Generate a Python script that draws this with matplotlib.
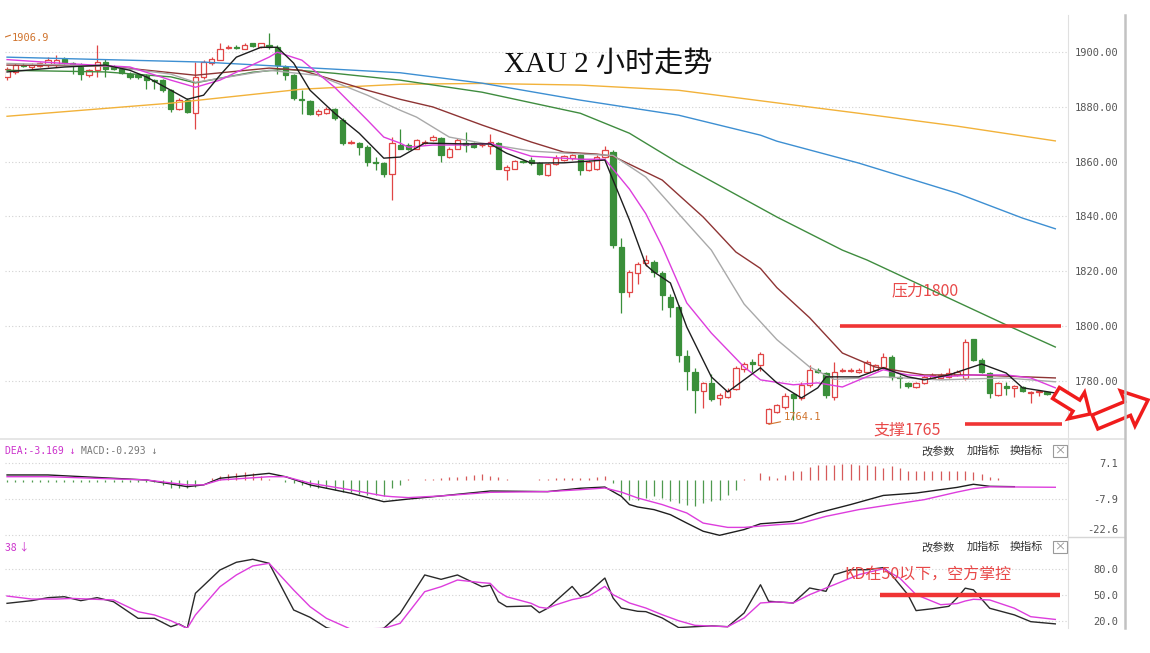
import numpy as np
import matplotlib.pyplot as plt
from matplotlib.patches import FancyArrow

plt.rcParams['font.family'] = ['Noto Sans CJK SC', 'DejaVu Sans']

# ---- 2h candles (open / high / low / close) ----
opens = [1891.0, 1892.8, 1895.5, 1894.6, 1895.0, 1895.3, 1895.3, 1897.7, 1895.9, 1894.6,
         1891.6, 1893.4, 1896.5, 1894.6, 1894.0, 1892.2, 1891.6, 1891.2, 1890.0, 1889.8,
         1886.1, 1879.1, 1882.5, 1877.9, 1891.0, 1895.9, 1897.3, 1901.5, 1901.9, 1901.3,
         1903.2, 1901.9, 1902.5, 1901.9, 1894.6, 1891.6, 1882.8, 1882.2, 1877.6, 1877.9,
         1879.4, 1875.4, 1867.0, 1866.9, 1865.5, 1860.0, 1859.6, 1855.5, 1866.1, 1866.1,
         1864.8, 1866.9, 1867.9, 1868.5, 1861.8, 1864.8, 1867.0, 1866.9, 1866.0, 1865.7,
         1866.9, 1856.9, 1857.5, 1860.2, 1860.8, 1859.4, 1855.1, 1859.1, 1860.6, 1861.2,
         1862.4, 1856.9, 1857.5, 1861.8, 1863.6, 1829.0, 1812.5, 1819.3, 1823.0, 1823.4,
         1819.3, 1810.6, 1807.0, 1789.0, 1783.2, 1776.3, 1779.2, 1773.5, 1774.2, 1777.0,
         1784.3, 1786.8, 1785.8, 1764.6, 1768.6, 1770.4, 1775.0, 1773.6, 1778.5, 1784.0,
         1782.7, 1774.2, 1783.5, 1783.6, 1783.2, 1783.3, 1784.0, 1785.1, 1788.8, 1781.5,
         1779.1, 1777.8, 1779.1, 1781.0, 1781.0, 1781.3, 1782.0, 1781.0, 1795.1, 1787.6,
         1782.7, 1774.8, 1778.0, 1777.3, 1777.6, 1775.6, 1776.0, 1775.7]
highs = [1894.6, 1895.9, 1896.0, 1895.9, 1896.5, 1898.3, 1898.9, 1898.3, 1896.5, 1895.9,
         1894.0, 1902.5, 1897.7, 1895.3, 1894.6, 1892.8, 1892.2, 1892.0, 1890.4, 1890.4,
         1886.7, 1883.1, 1883.1, 1896.5, 1897.1, 1898.3, 1903.2, 1902.5, 1902.5, 1903.2,
         1903.5, 1903.5, 1906.9, 1902.5, 1895.3, 1892.2, 1886.1, 1882.5, 1879.1, 1880.0,
         1879.8, 1875.8, 1867.9, 1867.3, 1866.1, 1861.8, 1860.0, 1869.1, 1872.1, 1866.7,
         1868.3, 1867.9, 1869.7, 1869.1, 1865.3, 1868.5, 1870.9, 1867.3, 1866.7, 1870.3,
         1867.3, 1858.8, 1860.8, 1860.8, 1861.8, 1859.8, 1859.6, 1862.4, 1862.6, 1863.0,
         1863.0, 1860.6, 1862.4, 1865.7, 1864.2, 1832.0, 1820.3, 1823.5, 1825.8, 1824.0,
         1819.9, 1811.8, 1807.5, 1791.2, 1784.7, 1779.6, 1782.6, 1775.5, 1777.2, 1785.5,
         1787.0, 1788.0, 1790.3, 1770.0, 1771.5, 1775.5, 1775.5, 1779.7, 1785.6, 1784.5,
         1783.3, 1787.0, 1784.5, 1784.7, 1784.8, 1787.5, 1786.2, 1790.0, 1789.4, 1782.2,
         1779.5, 1779.5, 1782.0, 1782.7, 1782.8, 1784.6, 1784.0, 1795.1, 1795.4, 1788.2,
         1783.3, 1779.6, 1779.5, 1778.6, 1778.0, 1776.3, 1776.7, 1776.0]
lows = [1889.8, 1892.2, 1894.6, 1894.0, 1894.6, 1894.6, 1894.6, 1895.3, 1892.2, 1889.8,
        1890.8, 1890.8, 1891.0, 1893.4, 1892.0, 1890.4, 1890.4, 1886.4, 1886.4, 1885.5,
        1878.2, 1878.8, 1877.9, 1871.8, 1890.4, 1895.3, 1897.1, 1901.0, 1901.0, 1901.0,
        1901.9, 1901.6, 1901.3, 1892.2, 1889.8, 1882.7, 1877.6, 1877.0, 1876.6, 1877.6,
        1875.4, 1866.1, 1866.4, 1862.4, 1858.4, 1856.9, 1854.5, 1846.0, 1864.5, 1864.2,
        1864.5, 1866.5, 1867.5, 1860.0, 1861.5, 1864.5, 1863.6, 1865.0, 1865.5, 1863.0,
        1857.2, 1853.3, 1857.2, 1859.6, 1858.8, 1855.0, 1854.8, 1858.8, 1860.2, 1860.8,
        1855.0, 1856.5, 1857.0, 1861.2, 1828.5, 1804.6, 1810.5, 1815.3, 1822.0, 1817.9,
        1805.9, 1803.3, 1787.0, 1776.6, 1768.2, 1770.0, 1772.5, 1771.2, 1773.5, 1776.6,
        1783.2, 1783.0, 1783.5, 1764.1, 1768.2, 1769.7, 1765.7, 1772.9, 1777.8, 1782.8,
        1773.6, 1773.0, 1783.2, 1783.0, 1782.9, 1782.8, 1783.5, 1784.5, 1780.3, 1777.3,
        1777.5, 1777.3, 1778.7, 1780.6, 1780.6, 1781.0, 1781.6, 1780.3, 1787.2, 1782.8,
        1773.6, 1774.4, 1774.8, 1774.2, 1775.8, 1772.0, 1774.5, 1774.9]
closes = [1894.0, 1895.3, 1895.0, 1895.3, 1895.9, 1897.1, 1897.1, 1895.9, 1895.3, 1892.2,
          1893.4, 1896.5, 1894.0, 1894.0, 1892.5, 1890.8, 1891.0, 1889.8, 1889.4, 1886.1,
          1879.4, 1882.5, 1878.2, 1891.0, 1896.5, 1897.7, 1901.3, 1901.9, 1901.7, 1902.8,
          1902.2, 1903.2, 1901.9, 1895.3, 1891.6, 1883.1, 1882.5, 1877.6, 1878.5, 1879.4,
          1875.8, 1866.9, 1867.3, 1865.5, 1860.0, 1859.6, 1855.5, 1866.7, 1864.8, 1864.8,
          1867.9, 1867.3, 1869.1, 1862.4, 1864.8, 1867.9, 1866.1, 1865.5, 1866.2, 1867.3,
          1857.5, 1858.2, 1860.2, 1860.0, 1859.4, 1855.5, 1859.1, 1861.2, 1862.0, 1862.4,
          1856.9, 1860.0, 1861.8, 1864.2, 1829.6, 1812.5, 1819.7, 1822.6, 1824.2, 1819.7,
          1811.3, 1807.0, 1789.4, 1783.6, 1776.6, 1779.2, 1773.4, 1774.7, 1776.3, 1784.7,
          1786.2, 1786.2, 1789.8, 1769.5, 1771.0, 1774.4, 1773.8, 1778.5, 1783.9, 1783.2,
          1774.8, 1783.3, 1784.0, 1784.0, 1784.0, 1787.0, 1785.6, 1788.8, 1781.5, 1780.8,
          1777.9, 1779.0, 1781.5, 1782.2, 1782.2, 1782.7, 1783.3, 1794.3, 1787.6, 1783.3,
          1775.4, 1779.1, 1777.3, 1778.0, 1776.4, 1775.9, 1776.3, 1775.3]

# ---- moving averages, read at candle positions ----
ma5_x = [0, 7, 12, 15, 17, 20, 22, 24, 26, 28, 31, 33, 35, 37, 40, 43, 46, 48, 51, 56, 59, 61,
         64, 68, 73, 75, 76, 78, 79, 81, 83, 86, 88, 90, 92, 94, 97, 99, 100, 104, 107, 110,
         112, 115, 119, 122, 124, 128]
ma5 = [1892.8, 1894.6, 1895.3, 1893.4, 1891.0, 1886.1, 1882.8, 1884.3, 1891.6, 1898.2, 1901.8,
       1901.8, 1896.0, 1886.1, 1877.7, 1870.4, 1861.3, 1861.7, 1866.8, 1866.5, 1866.5, 1863.1,
       1859.5, 1859.6, 1860.6, 1846.0, 1838.7, 1822.3, 1819.7, 1815.7, 1799.6, 1781.4, 1775.9,
       1780.3, 1784.7, 1779.2, 1773.7, 1777.4, 1781.4, 1781.4, 1784.7, 1781.4, 1780.3, 1782.1,
       1786.1, 1782.8, 1777.4, 1775.5]
ma10_x = [0, 7, 15, 20, 23, 26, 28, 32, 33, 36, 40, 44, 46, 48, 49, 52, 56, 59, 64, 70, 73, 76,
          78, 80, 83, 86, 90, 92, 96, 99, 102, 107, 110, 114, 118, 122, 125, 128]
ma10 = [1897.3, 1895.9, 1894.6, 1889.8, 1887.2, 1889.8, 1892.7, 1898.2, 1900.0, 1897.1, 1887.2,
        1875.2, 1869.0, 1866.8, 1865.3, 1866.1, 1866.1, 1866.7, 1862.0, 1860.9, 1860.9, 1850.0,
        1841.0, 1829.0, 1808.4, 1797.4, 1785.0, 1780.3, 1778.5, 1779.2, 1777.7, 1784.0, 1782.1,
        1781.4, 1782.1, 1782.1, 1781.0, 1777.4]
ma20_x = [0, 12, 20, 23, 32, 38, 44, 48, 50, 54, 58, 64, 70, 74, 78, 82, 86, 90, 94, 98, 101,
          107, 114, 122, 128]
ma20 = [1895.9, 1895.0, 1892.0, 1889.0, 1893.4, 1891.5, 1884.3, 1878.8, 1876.3, 1869.0, 1866.8,
        1863.9, 1862.8, 1862.3, 1854.4, 1841.0, 1827.7, 1808.0, 1795.0, 1785.0, 1780.5, 1781.4,
        1780.3, 1781.0, 1779.6]
ma30_x = [0, 12, 23, 32, 36, 44, 48, 52, 58, 64, 68, 72, 74, 80, 85, 89, 92, 94, 98, 102, 106,
          112, 118, 128]
ma30 = [1895.3, 1895.0, 1891.6, 1894.2, 1893.4, 1886.1, 1882.8, 1880.0, 1873.4, 1867.2, 1863.5,
        1862.8, 1862.0, 1853.3, 1839.8, 1827.0, 1821.0, 1814.0, 1803.0, 1790.1, 1785.0, 1782.1,
        1782.1, 1781.0]
ma60_x = [0, 12, 20, 23, 26, 30, 34, 40, 48, 58, 70, 76, 82, 94, 102, 105, 122, 128]
ma60 = [1893.4, 1892.8, 1891.0, 1888.8, 1890.5, 1892.7, 1893.8, 1892.3, 1889.8, 1885.4, 1877.7,
        1870.4, 1859.5, 1839.8, 1827.7, 1824.1, 1800.4, 1792.3]
ma120_x = [0, 24, 48, 58, 70, 82, 92, 94, 104, 116, 124, 128]
ma120 = [1898.2, 1896.4, 1892.5, 1888.7, 1882.5, 1877.0, 1869.7, 1867.5, 1859.5, 1848.5, 1839.4,
         1835.5]
ma250_x = [0, 20, 36, 48, 58, 70, 82, 94, 104, 116, 128]
ma250 = [1876.6, 1881.4, 1886.5, 1888.3, 1888.6, 1888.0, 1886.1, 1881.5, 1877.7, 1873.0, 1867.6]

# ---- MACD ----
macd_hist = [-0.6, -0.5, -0.6, -0.5, -0.6, -0.5, -0.6, -0.5, -0.6, -0.5, -0.6, -0.5, -0.6, -0.5,
             -0.6, -0.5, -0.6, -0.5, -0.6, -2.0, -3.0, -3.4, -3.4, -2.8, 0.3, 1.0, 2.0, 2.5, 3.0,
             3.3, 3.0, 1.8, 0.5, 0.3, -0.5, -1.2, -1.9, -2.6, -3.3, -3.3, -4.0, -4.7, -5.0, -5.8,
             -6.1, -6.1, -6.4, -3.3, -1.9, 0.5, 0.3, 0.5, 0.5, 0.8, 1.2, 1.5, 1.8, 2.2, 2.5, 1.8,
             1.2, 0.5, 0.3, 0.3, 0.3, 0.5, 0.5, 0.8, 1.0, 1.0, 0.8, 1.0, 1.2, 1.7, -1.1, -6.3,
             -8.05, -8.05, -7.35, -6.65, -7.35, -8.75, -9.45, -10.1, -10.8, -9.45, -8.75, -8.05,
             -6.0, -3.9, 0.5, 0.2, 3.05, 1.7, 1.0, 2.1, 3.75, 4.0, 5.4, 6.5, 6.5, 6.5, 6.8, 6.8,
             6.5, 6.5, 5.85, 5.15, 5.85, 5.15, 3.75, 3.75, 3.75, 3.75, 3.75, 3.75, 3.75, 4.0, 3.5,
             2.8, 1.5, 0.8, 0.3, 0.3, 0.0, 0.0, 0.2, 0.2]
dif_x = [0, 5, 17, 22, 24, 26, 32, 34, 37, 42, 46, 49, 53, 59, 66, 70, 73, 75, 76, 77, 79, 81,
         83, 85, 87, 90, 92, 96, 99, 103, 107, 111, 116, 118, 120, 123]
dif = [2.23, 2.23, 0.15, -2.65, -1.9, 0.85, 2.9, 1.5, -1.9, -5.4, -8.9, -7.8, -6.5, -4.45, -4.7,
       -3.3, -2.8, -6.65, -10.1, -11.1, -12.2, -14.3, -17.8, -21.2, -22.9, -20.5, -18.1, -17.1,
       -13.6, -10.1, -6.3, -5.3, -2.95, -1.65, -2.5, -2.65]
dea_x = [0, 5, 17, 22, 24, 26, 32, 34, 37, 42, 46, 47, 49, 53, 59, 66, 70, 73, 75, 77, 80, 83,
         85, 88, 90, 94, 97, 100, 104, 108, 112, 116, 118, 120, 128]
dea = [1.5, 1.5, 0.15, -1.9, -1.9, 0.15, 1.5, 1.5, -1.2, -4.0, -6.5, -6.8, -7.2, -6.5, -5.0, -4.7,
       -3.9, -3.2, -4.9, -7.35, -10.1, -13.6, -17.8, -19.6, -19.6, -18.5, -17.8, -15.0, -12.2,
       -10.1, -8.05, -4.9, -3.5, -2.7, -2.9]

# ---- KD ----
k_x = [0, 3, 5, 7, 9, 11, 13, 16, 18, 20, 21, 22, 23, 26, 28, 30, 32, 35, 37, 39, 42, 46, 48, 51,
       53, 55, 58, 59, 60, 61, 64, 65, 66, 67, 69, 70, 71, 73, 74, 75, 77, 78, 80, 82, 84, 86, 88,
       90, 92, 93, 96, 98, 100, 101, 103, 105, 107, 108, 110, 111, 113, 115, 116, 117, 118, 120,
       123, 125, 128]
k_val = [40.3, 43.4, 46.9, 48.0, 43.4, 46.9, 42.2, 22.8, 22.8, 13.0, 16.2, 11.1, 52.0, 79.2, 88.2,
         91.7, 87.0, 32.5, 24.0, 11.9, 5.0, 11.1, 28.7, 73.4, 68.3, 73.4, 59.7, 61.6, 42.2, 36.4,
         37.2, 29.4, 34.5, 43.0, 60.0, 48.5, 53.0, 69.8, 46.5, 34.8, 31.0, 30.6, 23.2, 12.0, 13.0,
         14.0, 13.0, 29.0, 62.0, 42.7, 40.7, 58.2, 54.3, 73.7, 79.5, 79.5, 82.0, 73.7, 50.4, 31.8,
         34.0, 36.8, 46.5, 58.0, 56.0, 34.5, 26.8, 18.9, 16.3]
d_x = [0, 3, 6, 8, 13, 16, 18, 20, 22, 23, 26, 28, 30, 32, 35, 37, 39, 42, 46, 48, 51, 53, 55, 58,
       59, 60, 61, 64, 65, 66, 67, 69, 71, 73, 74, 76, 78, 80, 82, 84, 88, 90, 92, 94, 96, 98, 101,
       104, 107, 109, 111, 114, 116, 117, 118, 120, 123, 125, 128]
d_val = [48.8, 45.3, 45.3, 46.0, 44.2, 30.5, 26.7, 20.0, 11.1, 26.7, 59.7, 73.4, 83.9, 87.0, 55.8,
         36.4, 22.8, 10.0, 11.0, 17.0, 53.9, 59.7, 67.5, 64.4, 63.6, 53.9, 48.0, 40.3, 35.7, 34.5,
         38.5, 44.6, 48.5, 60.1, 50.4, 40.7, 34.8, 27.0, 20.0, 14.6, 13.0, 23.2, 40.7, 42.0, 40.7,
         50.4, 62.0, 73.7, 80.7, 69.8, 50.4, 38.7, 40.0, 43.0, 45.0, 44.2, 34.6, 24.7, 21.5]

price_ticks = [1780, 1800, 1820, 1840, 1860, 1880, 1900]
macd_ticks = [7.1, -7.9, -22.6]
kd_ticks = [80, 50, 20]
resistance = 1800
support = 1764
kd_level = 50

RED = '#e04646'
GREEN = '#3a8f3a'
LINE_RED = '#f03434'
TXT_RED = '#e84848'
ORANGE_TXT = '#d0742e'
MAGENTA = '#dd3ddd'
GRID = '#d2d2d2'
MONO = ['DejaVu Sans Mono', 'DejaVu Sans']

W, H = 1150, 653
fig = plt.figure(figsize=(W / 100, H / 100), dpi=100)


def rect(top, bottom):
    return [5 / W, 1 - bottom / H, (1068 - 5) / W, (bottom - top) / H]


ax = fig.add_axes(rect(15, 438))
ax_macd = fig.add_axes(rect(439, 537), sharex=ax)
ax_kd = fig.add_axes(rect(537, 628), sharex=ax)

idx = np.arange(len(opens))
o, h, l, c = (np.array(v) for v in (opens, highs, lows, closes))
up = c >= o
body = np.maximum(np.abs(c - o), 0.2)

# candles
ax.vlines(idx[up], l[up], h[up], color=RED, lw=0.9, zorder=2)
ax.vlines(idx[~up], l[~up], h[~up], color=GREEN, lw=0.9, zorder=2)
ax.bar(idx[up], body[up], bottom=o[up], width=0.64, color='white', edgecolor=RED, lw=0.9, zorder=3)
ax.bar(idx[~up], body[~up], bottom=c[~up], width=0.64, color=GREEN, edgecolor=GREEN, lw=0.9, zorder=3)

# moving averages
for xs, ys, col in [(ma250_x, ma250, '#f2b23a'), (ma120_x, ma120, '#3d8fd2'),
                    (ma60_x, ma60, '#3f8c3f'), (ma30_x, ma30, '#8e3434'),
                    (ma20_x, ma20, '#a9a9a9'), (ma10_x, ma10, MAGENTA), (ma5_x, ma5, '#1e1e1e')]:
    ax.plot(xs, ys, color=col, lw=1.0, zorder=4)

ax.set_xlim(-0.25, 129.55)
ax.set_ylim(1759.06, 1913.6)

# annotations on price panel
ax.text(73.4, 1895.5, 'XAU 2 小时走势', fontsize=21, color='#111111', ha='center', va='center',
        family=['Liberation Serif', 'Noto Sans CJK SC'])
ax.text(0.6, 1906.9, '1906.9', fontsize=7.5, color=ORANGE_TXT, va='top', family=MONO)
ax.plot([-0.2, 0.4], [1905.6, 1906.2], color=ORANGE_TXT, lw=0.8)
ax.annotate('1764.1', xy=(93, 1764.1), xytext=(94.8, 1766.6), fontsize=7.5, color=ORANGE_TXT,
            va='center', family=MONO,
            arrowprops=dict(arrowstyle='-', color=ORANGE_TXT, lw=0.8, shrinkA=0, shrinkB=0))
ax.hlines(resistance, 101.7, 128.7, color=LINE_RED, lw=2.6, zorder=5)
ax.text(112.1, 1812.8, '压力1800', fontsize=11.5, color=TXT_RED, ha='center', va='center')
ax.hlines(support, 117, 128.8, color=LINE_RED, lw=2.6, zorder=5)
ax.text(109.9, 1762.0, '支撑1765', fontsize=11.5, color=TXT_RED, ha='center', va='center')

# MACD panel
hist = np.array(macd_hist)
hx = np.arange(len(hist))
ax_macd.vlines(hx[hist >= 0], 0, hist[hist >= 0], color='#d65a5a', lw=0.9)
ax_macd.vlines(hx[hist < 0], 0, hist[hist < 0], color='#4f9a4f', lw=0.9)
ax_macd.plot(dif_x, dif, color='#1e1e1e', lw=1.0)
ax_macd.plot(dea_x, dea, color=MAGENTA, lw=1.0)
ax_macd.set_ylim(-23.6, 17.2)

# KD panel
ax_kd.plot(k_x, k_val, color='#2a2a2a', lw=1.0)
ax_kd.plot(d_x, d_val, color=MAGENTA, lw=1.0)
ax_kd.set_ylim(11.5, 117.7)
ax_kd.hlines(kd_level, 106.6, 128.6, color=LINE_RED, lw=3.2, zorder=5)
ax_kd.text(102.3, 73.3, 'KD在50以下，空方掌控', fontsize=11.5, color=TXT_RED, ha='left', va='center',
           zorder=6)

# axes styling
for a, ticks, fmt in [(ax, price_ticks, '{:.2f}'), (ax_macd, macd_ticks, '{:.1f}'),
                      (ax_kd, kd_ticks, '{:.1f}')]:
    a.set_facecolor('none')
    a.grid(axis='y', ls=(0, (1, 2)), color=GRID, lw=0.8)
    a.yaxis.tick_right()
    a.set_yticks(ticks)
    a.set_yticklabels([fmt.format(t) for t in ticks], ha='right', family=MONO)
    a.tick_params(axis='y', length=0, pad=36, labelsize=7.5, labelcolor='#555555')
    a.tick_params(axis='x', bottom=False, labelbottom=False)
    for s in ['top', 'left', 'bottom']:
        a.spines[s].set_visible(False)
    a.spines['right'].set_color('#e0e0e0')
    a.set_axisbelow(True)
ax_macd.get_yticklabels()[2].set_va('bottom')

# panel headers
ax_macd.text(0.0, 0.878, 'DEA:-3.169 ↓', transform=ax_macd.transAxes, fontsize=7, color='#cc33cc',
             va='center', family=MONO)
ax_macd.text(0.0715, 0.878, 'MACD:-0.293 ↓', transform=ax_macd.transAxes, fontsize=7,
             color='#777777', va='center', family=MONO)
ax_kd.text(0.0, 0.89, '38 ↓', transform=ax_kd.transAxes, fontsize=7.5, color='#cc33cc',
           va='center')
for a, yf in [(ax_macd, 0.878), (ax_kd, 0.89)]:
    for xf, word in [(0.878, '改参数'), (0.920, '加指标'), (0.961, '换指标')]:
        a.text(xf, yf, word, transform=a.transAxes, fontsize=8, color='#333333',
               ha='center', va='center')
    a.text(0.9925, yf, '×', transform=a.transAxes, fontsize=8, color='#888888', ha='center',
           va='center', bbox=dict(boxstyle='square,pad=0.12', fc='white', ec='#9a9a9a', lw=0.8))

# overlay in pixel units: separators, outer frame line and the hand drawn arrows
ov = fig.add_axes([0, 0, 1, 1], zorder=10)
ov.set_xlim(0, W)
ov.set_ylim(H, 0)
ov.axis('off')
ov.patch.set_alpha(0)
ov.plot([0, 1125], [438.5, 438.5], color='#e2e2e2', lw=1.2)
ov.plot([1068, 1125], [537, 537], color='#d6d6d6', lw=1.0)
ov.plot([1125, 1125], [15, 628], color='#c2c2c2', lw=1.8)
for x0, y0, dx, dy, wd, hw, hl in [(1056, 393, 34, 21, 13, 31, 16),
                                     (1095, 422, 53, -22, 15, 38, 22)]:
    ov.add_patch(FancyArrow(x0, y0, dx, dy, width=wd, head_width=hw, head_length=hl,
                            length_includes_head=True, fc='white', ec='#f01c1c', lw=2.5))

fig.savefig('out.png', dpi=100)
